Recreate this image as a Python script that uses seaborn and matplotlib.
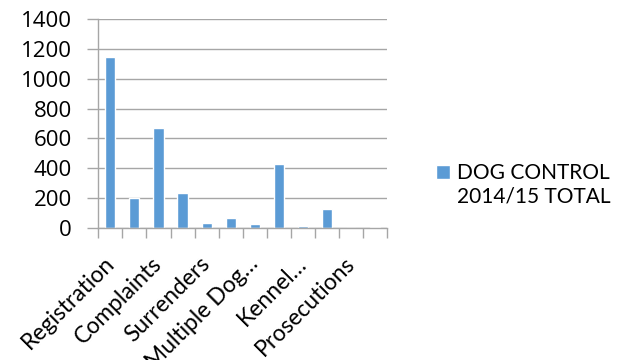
import matplotlib
matplotlib.use("Agg")
import matplotlib.pyplot as plt
import matplotlib.transforms as mtransforms
import numpy as np
import pandas as pd
import seaborn as sns

# Dog control activity counts, 2014/15
categories = [
    "Registration", "Impounding", "Complaints", "Dog Attacks",
    "Surrenders", "Rehoming", "Multiple Dog Permits", "Infringements",
    "Kennel Licences", "Menacing Dogs", "Prosecutions", "Dangerous Dogs",
]
tick_labels = [
    "Registration", "", "Complaints", "", "Surrenders", "",
    "Multiple Dog\u2026", "", "Kennel\u2026", "", "Prosecutions", "",
]
y_ticks = [0, 200, 400, 600, 800, 1000, 1200, 1400]
values = [1145, 203, 670, 234, 32, 63, 23, 427, 12, 129, 0, 4]
series_name = "DOG CONTROL\n2014/15 TOTAL"

bar_color = "#5B9BD5"
grid_color = "#A6A6A6"
text_color = "#000000"

sns.set_theme(style="white")
plt.rcParams["font.family"] = ["Lato", "DejaVu Sans"]

df = pd.DataFrame({"category": categories, "value": values, "series": series_name})

fig = plt.figure(figsize=(6.38, 3.6), dpi=100)
ax = fig.add_axes([0.154, 0.367, 0.453, 0.580])

sns.barplot(data=df, x="category", y="value", hue="series", palette=[bar_color],
            width=0.42, ax=ax, saturation=1, order=categories)

ax.set_ylim(0, 1400)
ax.set_yticks(y_ticks, labels=[str(t) for t in y_ticks],
              fontfamily=["Open Sans", "DejaVu Sans"], fontsize=16,
              color=text_color)
ax.set_xlim(-0.5, len(categories) - 0.5)
ax.yaxis.grid(True, color=grid_color, linewidth=1)
ax.set_axisbelow(True)

for side in ("top", "right"):
    ax.spines[side].set_visible(False)
for side in ("left", "bottom"):
    ax.spines[side].set_color(grid_color)
    ax.spines[side].set_linewidth(1)

ax.set_xlabel("")
ax.set_ylabel("")

# category labels at bar centres, tick marks at category boundaries
ax.set_xticks(range(len(categories)))
ax.set_xticklabels(tick_labels, rotation=45, ha="right", rotation_mode="anchor",
                   fontsize=16.5, color=text_color)
ax.set_xticks(np.arange(-0.5, len(categories), 1.0), minor=True)
ax.tick_params(axis="x", which="major", length=0, pad=18)
ax.tick_params(axis="x", which="minor", length=7, width=1, color=grid_color,
               direction="out", bottom=True)
ax.tick_params(axis="y", length=8, width=1, color=grid_color, direction="out",
               left=True, pad=11)

shift = mtransforms.ScaledTranslation(-7 / 100, 0, fig.dpi_scale_trans)
for lbl in ax.get_xticklabels():
    lbl.set_transform(lbl.get_transform() + shift)

handles, labels = ax.get_legend_handles_labels()
leg = ax.legend(handles, labels, loc="center left", bbox_to_anchor=(1.131, 0.206),
                frameon=False, fontsize=15, handlelength=0.67, handleheight=0.67,
                handletextpad=0.34, borderpad=0, labelcolor=text_color)
# sit the swatch beside the first line of the two-line label
swatch = leg.legend_handles[0]
swatch.set_y(swatch.get_y() + 9.5)

fig.savefig("out.png", dpi=100, facecolor="white")
